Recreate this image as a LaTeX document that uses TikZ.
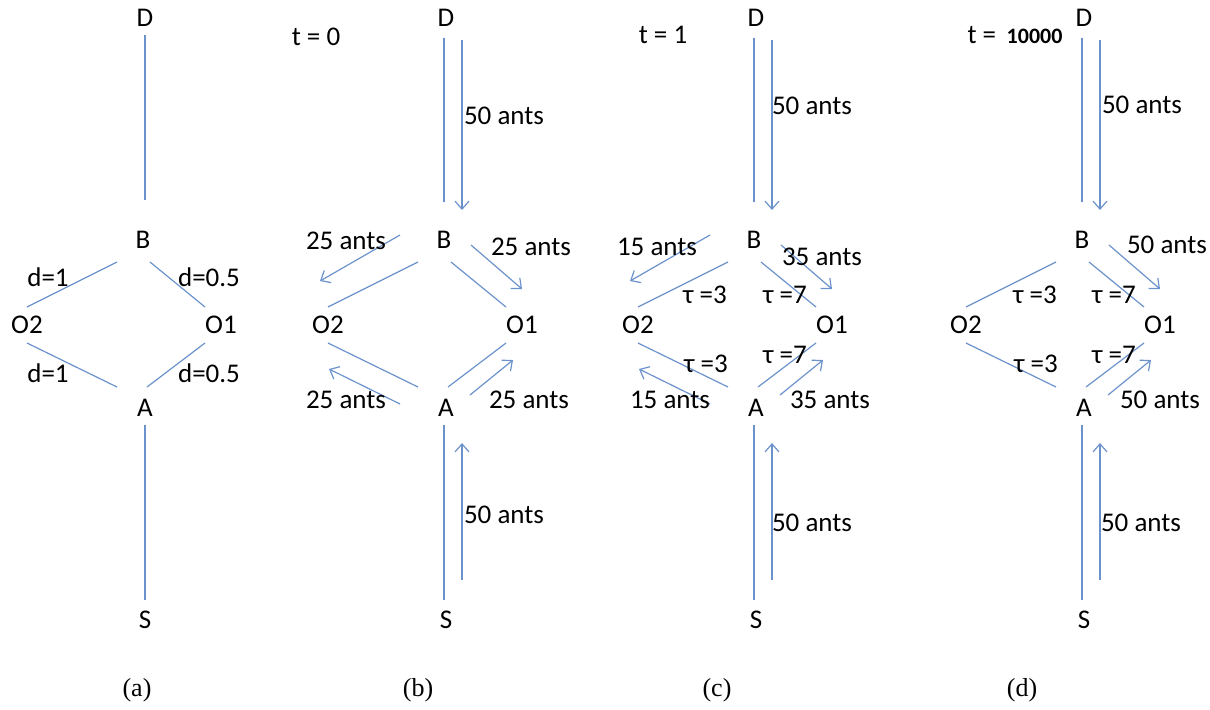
\documentclass[tikz,border=0pt]{standalone}
\usepackage{fontspec}
\setmainfont{Carlito}
\newfontfamily\capfont{Liberation Serif}
\usetikzlibrary{arrows.meta,calc}
\definecolor{lineblue}{RGB}{108,146,204}

\begin{document}
\begin{tikzpicture}[x=0.5pt,y=-0.5pt,
  font=\fontsize{13.5}{16}\selectfont,
  lbl/.style={inner sep=1pt},
  edge/.style={draw=lineblue, line width=0.6pt},
  flow/.style={edge, -{Straight Barb[length=4pt,width=7pt]}},
  capt/.style={inner sep=1pt, font=\capfont\fontsize{13}{15}\selectfont}
]
\useasboundingbox (0,0) rectangle (1210,709);

% the graph, the same in every panel
\foreach \p/\ox in {a/0,b/301,c/611,d/939}{
\begin{scope}[shift={(\ox,0)}]
  \node[lbl] (\p D)  at (145,18)  {D};
  \node[lbl] (\p B)  at (143,240) {B};
  \node[lbl] (\p O2) at (27,325)  {O2};
  \node[lbl] (\p O1) at (221,325) {O1};
  \node[lbl] (\p A)  at (145,408) {A};
  \node[lbl] (\p S)  at (145,620) {S};
  \coordinate (\p BL) at (117,262); \coordinate (\p BR) at (150,262);
  \coordinate (\p LT) at (27,307);  \coordinate (\p RT) at (205,307);
  \coordinate (\p LB) at (27,343);  \coordinate (\p RB) at (205,343);
  \coordinate (\p AL) at (117,387); \coordinate (\p AR) at (147,387);
  \draw[edge] (\p BL) -- (\p LT);
  \draw[edge] (\p BR) -- (\p RT);
  \draw[edge] (\p LB) -- (\p AL);
  \draw[edge] (\p RB) -- (\p AR);
\end{scope}
}

% (a) distances
\draw[edge] ($(aD)+(0,17)$) -- ($(aB)+(2,-40)$);
\draw[edge] ($(aA)+(0,17)$) -- ($(aS)+(0,-20)$);
\node[lbl] (d1)  at (48,277)  {d=1};
\node[lbl] (d2)  at (209,277) {d=0.5};
\node[lbl] (d3)  at (48,373)  {d=1};
\node[lbl] (d4)  at (209,373) {d=0.5};

% (b) to (d): trunk paths with the 50 ants
\foreach \p in {b,c,d}{
  \draw[edge] ($(\p D)+(-2,20)$) -- ($(\p B)+(0,-38)$);
  \draw[flow] ($(\p D)+(16,22)$) -- ($(\p B)+(18,-30)$);
  \draw[edge] ($(\p A)+(-2,17)$) -- ($(\p S)+(-2,-20)$);
  \draw[flow] ($(\p S)+(16,-40)$) -- ($(\p A)+(16,35)$);
}

% flows on the branches
\foreach \p/\ox in {b/301,c/611}{
\begin{scope}[shift={(\ox,0)}]
  \coordinate (\p f1) at (99,235);  \coordinate (\p t1) at (19,281);
  \coordinate (\p f3) at (99,404);  \coordinate (\p t3) at (28,369);
  \draw[flow] (\p f1) -- (\p t1);
  \draw[flow] (\p f3) -- (\p t3);
\end{scope}
}
\foreach \p/\ox in {b/301,c/611,d/939}{
\begin{scope}[shift={(\ox,0)}]
  \coordinate (\p f2) at (170,245); \coordinate (\p t2) at (221,289);
  \coordinate (\p f4) at (169,395); \coordinate (\p t4) at (212,360);
  \draw[flow] (\p f2) -- (\p t2);
  \draw[flow] (\p f4) -- (\p t4);
\end{scope}
}

% (b) t = 0
\node[lbl] (bt)  at (316,37)  {t = 0};
\node[lbl] (bn1) at (504,116) {50 ants};
\node[lbl] (bn2) at (504,515) {50 ants};
\node[lbl] (bl1) at (346,241) {25 ants};
\node[lbl] (bl2) at (531,247) {25 ants};
\node[lbl] (bl3) at (346,400) {25 ants};
\node[lbl] (bl4) at (529,400) {25 ants};

% (c) t = 1
\node[lbl] (ct)  at (663,35)  {t = 1};
\node[lbl] (cn1) at (812,106) {50 ants};
\node[lbl] (cn2) at (812,523) {50 ants};
\node[lbl] (cl1) at (657,247) {15 ants};
\node[lbl] (cl2) at (822,257) {35 ants};
\node[lbl] (cl3) at (670,400) {15 ants};
\node[lbl] (cl4) at (830,400) {35 ants};
\node[lbl] (cp1) at (705,295) {τ =3};
\node[lbl] (cp2) at (785,295) {τ =7};
\node[lbl] (cp3) at (706,364) {τ =3};
\node[lbl] (cp4) at (785,355) {τ =7};

% (d) t = 10000
\node[lbl] (dt)  at (1015,35) {t = \,{\bfseries\fontsize{11}{13}\selectfont 10000}};
\node[lbl] (dn1) at (1142,105) {50 ants};
\node[lbl] (dn2) at (1141,523) {50 ants};
\node[lbl] (dl2) at (1167,245) {50 ants};
\node[lbl] (dl4) at (1160,400) {50 ants};
\node[lbl] (dp1) at (1035,295) {τ =3};
\node[lbl] (dp2) at (1114,295) {τ =7};
\node[lbl] (dp3) at (1036,364) {τ =3};
\node[lbl] (dp4) at (1114,355) {τ =7};

% captions
\node[capt] (capa) at (137,690)  {(a)};
\node[capt] (capb) at (418,690)  {(b)};
\node[capt] (capc) at (717,690)  {(c)};
\node[capt] (capd) at (1022,690) {(d)};
\end{tikzpicture}
\end{document}
